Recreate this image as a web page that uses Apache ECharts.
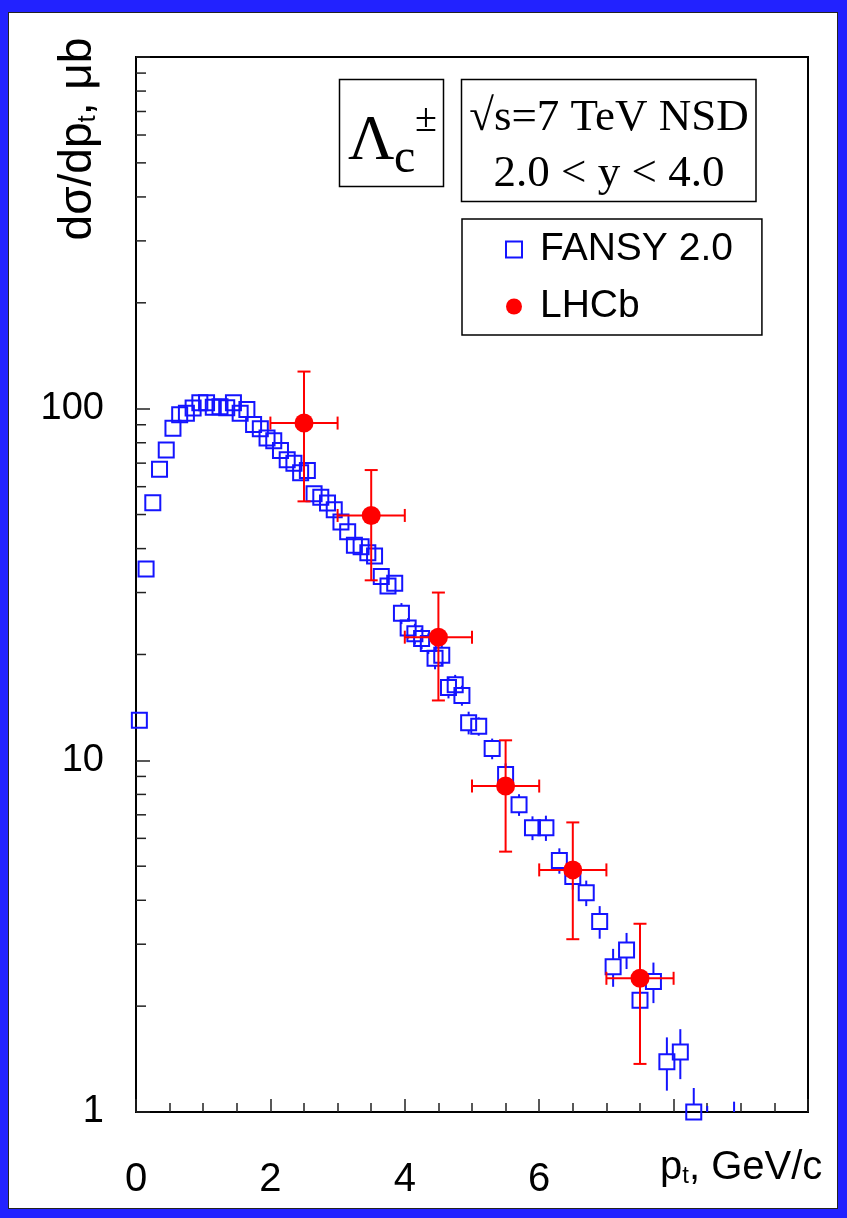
<!DOCTYPE html>
<html>
<head>
<meta charset="utf-8">
<script src="https://cdn.jsdelivr.net/npm/echarts@6/dist/echarts.min.js"></script>
<style>
  html, body { margin: 0; padding: 0; background: #2222ff; }
  #panel { position: absolute; left: 8px; top: 12px; width: 830px; height: 1197px;
           background: #fff; border: 1px solid #222; box-sizing: border-box; }
  #chart { position: absolute; left: 0; top: 0; width: 847px; height: 1218px; }
</style>
</head>
<body>
<div id="panel"></div>
<div id="chart"></div>
<script>
// FANSY 2.0 model: Lambda_c cross section vs pt (0.1 GeV/c bins up to 5, then 0.2)
const fansyPt = [
  0.05, 0.15, 0.25, 0.35, 0.45, 0.55, 0.65, 0.75, 0.85, 0.95,
  1.05, 1.15, 1.25, 1.35, 1.45, 1.55, 1.65, 1.75, 1.85, 1.95,
  2.05, 2.15, 2.25, 2.35, 2.45, 2.55, 2.65, 2.75, 2.85, 2.95,
  3.05, 3.15, 3.25, 3.35, 3.45, 3.55, 3.65, 3.75, 3.85, 3.95,
  4.05, 4.15, 4.25, 4.35, 4.45, 4.55, 4.65, 4.75, 4.85, 4.95,
  5.1, 5.3, 5.5, 5.7, 5.9, 6.1, 6.3, 6.5, 6.7, 6.9,
  7.1, 7.3, 7.5, 7.7, 7.9, 8.1, 8.3, 8.5, 8.9
];
const fansyVal = [
  13.0, 35.0, 54.0, 67.3, 76.3, 87.9, 96.1, 97.0, 100.4, 104,
  104, 100.9, 101.3, 100.6, 104, 97.0, 99.5, 90.2, 87.7, 82.5,
  81.1, 76.1, 71.6, 69.9, 65.7, 66.7, 57.3, 56.0, 53.9, 51.6,
  47.6, 44.7, 40.9, 40.5, 38.9, 38.1, 33.3, 31.3, 31.9, 26.2,
  23.8, 22.9, 22.2, 21.5, 19.5, 19.9, 16.1, 16.4, 15.3, 12.8,
  12.5, 10.8, 9.12, 7.48, 6.43, 6.43, 5.19, 4.67, 4.20, 3.48,
  2.59, 2.89, 2.08, 2.35, 1.39, 1.48, 1.00, 0.88, 0.85
];
const fansyErr = [
  0.3, 0.8, 1.2, 1.5, 1.7, 1.9, 2.0, 2.0, 2.1, 2.1,
  2.1, 2.1, 2.1, 2.1, 2.2, 2.1, 2.1, 2.0, 2.0, 1.9,
  1.9, 1.8, 1.8, 1.7, 1.7, 1.7, 1.6, 1.6, 1.5, 1.5,
  1.4, 1.4, 1.3, 1.3, 1.3, 1.3, 1.5, 1.5, 1.5, 1.8,
  1.6, 1.55, 1.5, 1.45, 1.35, 1.35, 1.1, 1.1, 1.0, 0.95,
  0.75, 0.73, 0.68, 0.53, 0.50, 0.53, 0.43, 0.38, 0.35, 0.37,
  0.32, 0.34, 0.29, 0.31, 0.24, 0.24, 0.17, 0.16, 0.22
];

// LHCb measurement
const lhcbPt   = [2.5, 3.5, 4.5, 5.5, 6.5, 7.5];
const lhcbVal  = [91.0, 49.7, 22.4, 8.45, 4.88, 2.40];
const lhcbErrY = [36.5, 17.2, 7.6, 2.95, 1.78, 1.03];
const lhcbErrX = [0.5, 0.5, 0.5, 0.5, 0.5, 0.5];

// axis labelling
const xTickLabels = ['0', '2', '4', '6'];
const yTickLabels = ['1', '10', '100'];
const yMinorTicks = [2, 3, 4, 5, 6, 7, 8, 9,
                     20, 30, 40, 50, 60, 70, 80, 90,
                     200, 300, 400, 500, 600, 700, 800, 900];

const BLUE = '#1414ff';
const RED = '#ff0000';
const SQ = 15;        // FANSY marker size
const SANS = "'Liberation Sans', Arial, sans-serif";
const SERIF = "'Liberation Serif', 'Times New Roman', serif";

const chart = echarts.init(document.getElementById('chart'), null, { renderer: 'canvas' });

const fansyData = fansyPt.map((x, i) => [x, fansyVal[i], fansyErr[i]]);
const lhcbData = lhcbPt.map((x, i) => [x, lhcbVal[i], lhcbErrX[i], lhcbErrY[i]]);

// vertical error bar of a FANSY point, left open inside the square marker
function fansyBars(params, api) {
  const x = api.value(0), v = api.value(1), e = api.value(2);
  const c = api.coord([x, v]);
  const top = api.coord([x, v + e])[1];
  const bot = api.coord([x, Math.max(v - e, 1e-3)])[1];
  const h = SQ / 2;
  const style = { stroke: BLUE, lineWidth: 2 };
  const children = [];
  if (top < c[1] - h) children.push({ type: 'line', shape: { x1: c[0], y1: top, x2: c[0], y2: c[1] - h }, style });
  if (bot > c[1] + h) children.push({ type: 'line', shape: { x1: c[0], y1: c[1] + h, x2: c[0], y2: bot }, style });
  return { type: 'group', children };
}

// LHCb cross-shaped error bars with end caps
function lhcbBars(params, api) {
  const x = api.value(0), v = api.value(1), ex = api.value(2), ey = api.value(3);
  const c = api.coord([x, v]);
  const t = api.coord([x, v + ey])[1];
  const b = api.coord([x, v - ey])[1];
  const l = api.coord([x - ex, v])[0];
  const r = api.coord([x + ex, v])[0];
  const cap = 6.5;
  const style = { stroke: RED, lineWidth: 2 };
  return {
    type: 'group',
    children: [
      { type: 'line', shape: { x1: c[0], y1: t, x2: c[0], y2: b }, style },
      { type: 'line', shape: { x1: l, y1: c[1], x2: r, y2: c[1] }, style },
      { type: 'line', shape: { x1: c[0] - cap, y1: t, x2: c[0] + cap, y2: t }, style },
      { type: 'line', shape: { x1: c[0] - cap, y1: b, x2: c[0] + cap, y2: b }, style },
      { type: 'line', shape: { x1: l, y1: c[1] - cap, x2: l, y2: c[1] + cap }, style },
      { type: 'line', shape: { x1: r, y1: c[1] - cap, x2: r, y2: c[1] + cap }, style }
    ]
  };
}

// log-axis minor ticks (2..9 per decade), drawn inward from the y axis
function minorTicks(params, api) {
  const p = api.coord([0, api.value(1)]);
  return { type: 'line', shape: { x1: p[0], y1: p[1], x2: p[0] + 10, y2: p[1] },
           style: { stroke: '#222', lineWidth: 1.5 } };
}

const option = {
  animation: false,
  backgroundColor: 'transparent',
  grid: { left: 136, top: 57, width: 672, height: 1055, show: true,
          borderColor: '#000', borderWidth: 2, backgroundColor: 'transparent' },
  xAxis: {
    type: 'value', min: 0, max: 10, interval: 2,
    axisLine: { show: true, onZero: false, lineStyle: { color: '#000', width: 2 } },
    axisTick: { show: true, inside: true, length: 13, lineStyle: { color: '#222', width: 1.5 } },
    minorTick: { show: true, splitNumber: 4, length: 9, lineStyle: { color: '#222', width: 1.5 } },
    splitLine: { show: false },
    axisLabel: {
      margin: 48, fontFamily: SANS, fontSize: 40, color: '#000',
      formatter: v => xTickLabels.includes(String(v)) ? String(v) : ''
    }
  },
  yAxis: {
    type: 'log', logBase: 10, min: 1, max: 1000,
    axisLine: { show: true, lineStyle: { color: '#000', width: 2 } },
    axisTick: { show: true, inside: true, length: 14, lineStyle: { color: '#222', width: 1.5 } },
    splitLine: { show: false },
    axisLabel: {
      margin: 32, fontFamily: SANS, fontSize: 38, color: '#000',
      formatter: v => { const s = String(Math.round(v)); return yTickLabels.includes(s) ? s : ''; }
    }
  },
  legend: {
    orient: 'vertical', left: 462, top: 219,
    padding: [2, 29, 0, 43], itemGap: 0, itemWidth: 16, itemHeight: 16,
    borderColor: '#000', borderWidth: 1.5, backgroundColor: '#fff',
    textStyle: { fontFamily: SANS, fontSize: 39, color: '#000', lineHeight: 57, padding: [0, 0, 0, 13] },
    data: [
      { name: 'FANSY 2.0', icon: 'rect',
        itemStyle: { color: 'rgba(0,0,0,0)', borderColor: BLUE, borderWidth: 2 } },
      { name: 'LHCb', icon: 'circle', itemStyle: { color: RED } }
    ]
  },
  graphic: [
    { type: 'rect', shape: { x: 339.5, y: 79.5, width: 104, height: 107 },
      style: { fill: '#fff', stroke: '#000', lineWidth: 1.5 } },
    { type: 'text', x: 348, y: 142,
      style: { text: 'Λ', font: `64px ${SERIF}`, fill: '#000', textAlign: 'left', textVerticalAlign: 'middle' } },
    { type: 'text', x: 394, y: 159,
      style: { text: 'c', font: `48px ${SERIF}`, fill: '#000', textAlign: 'left', textVerticalAlign: 'middle' } },
    { type: 'text', x: 426, y: 120,
      style: { text: '±', font: `40px ${SERIF}`, fill: '#000', textAlign: 'center', textVerticalAlign: 'middle' } },
    { type: 'rect', shape: { x: 461.5, y: 79.5, width: 294.5, height: 122 },
      style: { fill: '#fff', stroke: '#000', lineWidth: 1.5 } },
    { type: 'text', x: 609, y: 118,
      style: { text: '√s=7 TeV NSD', font: `45px ${SERIF}`, fill: '#000', textAlign: 'center', textVerticalAlign: 'middle' } },
    { type: 'text', x: 609, y: 174,
      style: { text: '2.0 < y < 4.0', font: `45px ${SERIF}`, fill: '#000', textAlign: 'center', textVerticalAlign: 'middle' } },
    // y axis title
    { type: 'text', x: 78, y: 139, rotation: Math.PI / 2,
      style: {
        text: '{a|dσ/dp}{s|t}{a|, μb}', textAlign: 'center', textVerticalAlign: 'middle',
        rich: {
          a: { fontFamily: SANS, fontSize: 46, lineHeight: 46, fill: '#000' },
          s: { fontFamily: SANS, fontSize: 26, lineHeight: 12, verticalAlign: 'bottom', fill: '#000' }
        }
      } },
    // x axis title
    { type: 'text', x: 660, y: 1168,
      style: {
        text: '{a|p}{s|t}{a|, GeV/c}', textAlign: 'left', textVerticalAlign: 'middle',
        rich: {
          a: { fontFamily: SANS, fontSize: 40, lineHeight: 40, fill: '#000' },
          s: { fontFamily: SANS, fontSize: 24, lineHeight: 12, verticalAlign: 'bottom', fill: '#000' }
        }
      } }
  ],
  series: [
    { name: 'ticks', type: 'custom', renderItem: minorTicks, silent: true, z: 1,
      data: yMinorTicks.map(v => [0, v]) },
    { name: 'FANSY 2.0', type: 'scatter', symbol: 'rect', symbolSize: SQ, z: 3,
      itemStyle: { color: 'rgba(0,0,0,0)', borderColor: BLUE, borderWidth: 2, opacity: 1 },
      data: fansyData.map(d => [d[0], d[1]]) },
    { name: 'fansy-err', type: 'custom', renderItem: fansyBars, clip: true, silent: true, z: 3,
      data: fansyData },
    { name: 'lhcb-err', type: 'custom', renderItem: lhcbBars, clip: true, silent: true, z: 4,
      data: lhcbData },
    { name: 'LHCb', type: 'scatter', symbol: 'circle', symbolSize: 19, z: 5,
      itemStyle: { color: RED, opacity: 1 },
      data: lhcbData.map(d => [d[0], d[1]]) }
  ]
};

chart.setOption(option);
</script>
</body>
</html>
